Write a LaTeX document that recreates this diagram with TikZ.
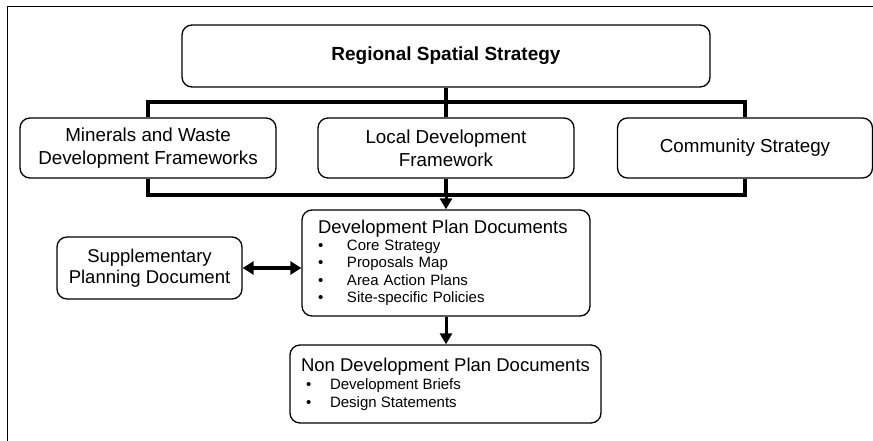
\documentclass[tikz,border=0pt]{standalone}
\usepackage{fontspec}
\setmainfont{Liberation Sans}
\usetikzlibrary{arrows.meta}

\tikzset{
    planbox/.style={draw,line width=1.3pt,rounded corners=10pt,align=center,inner sep=0pt},
    bus/.style={line width=3.6pt},
    flow/.style={line width=3pt,-{Triangle[length=11pt,width=12pt]}},
}
% bullet line: #1 = extra indent in front of the bullet
\newcommand{\bul}[2][0pt]{\hspace*{#1}\makebox[\dimexpr29pt-#1\relax][l]{\textbullet}#2}

\begin{document}
\begin{tikzpicture}[x=1pt,y=-1pt]
    
    \def\rowf{\fontsize{18.8}{23}\selectfont}	 %font of the middle row
    \def\headf{\fontsize{18.5}{21}\selectfont}	 %font of the box titles
    \def\listf{\fontsize{15}{17.5}\selectfont}	 %font of the bullet lists
    
    \useasboundingbox (0,0) rectangle (873,441);
    \draw[line width=1pt] (873,7)--(7,7)--(7,441);	%frame (cut on the right and below)
    
    %TOP
    \node[planbox,minimum width=528pt,minimum height=62pt,font=\fontsize{19}{22}\selectfont\bfseries] (rss) at (446,56) {Regional Spatial Strategy};
    
    %MIDDLE ROW
    \node[planbox,minimum width=256pt,minimum height=60pt,font=\rowf] (mwdf) at (148,148) {Minerals and Waste\\Development Frameworks};
    \node[planbox,minimum width=256pt,minimum height=60pt,font=\rowf] (ldf) at (446,148) {Local Development\\Framework};
    \node[planbox,minimum width=255pt,minimum height=60pt,font=\rowf] (cs) at (745,148) {Community Strategy};
    
    %PLAN DOCUMENTS
    \node[planbox,minimum width=288pt,minimum height=106pt,align=left,text width=256pt,font=\listf] (dpd) at (446,263) {%
        {\headf Development Plan Documents}\\[-1pt]
        \bul{Core Strategy}\\
        \bul{Proposals Map}\\
        \bul{Area Action Plans}\\
        \bul{Site-specific Policies}};
    \node[planbox,minimum width=185pt,minimum height=62pt,font=\headf] (spd) at (149.5,268) {Supplementary\\Planning Document};
    \node[planbox,minimum width=311pt,minimum height=78pt,align=left,font=\listf] (ndpd) at (445.5,384) {%
        {\headf Non Development Plan Documents}\\[1pt]
        \bul[5pt]{Development Briefs}\\
        \bul[5pt]{Design Statements}};
    
    %CONNECTORS
    \coordinate (topbus) at (446,102);
    \coordinate (lowbus) at (446,195);
    \draw[bus] (rss.south)--(topbus)--(ldf.north);
    \draw[bus] (mwdf.north) |- (topbus) -| (cs.north);
    \draw[bus] (mwdf.south) |- (lowbus) -| (cs.south);
    \draw[bus] (ldf.south)--(lowbus);
    \draw[flow] (lowbus)--(dpd.north);
    \draw[flow,line width=3.6pt,{Triangle[length=11pt,width=13pt]}-{Triangle[length=11pt,width=13pt]}] (spd.east)--(spd.east -| dpd.west);
    \draw[flow] (dpd.south)--(dpd.south |- ndpd.north);
    
\end{tikzpicture}
\end{document}
